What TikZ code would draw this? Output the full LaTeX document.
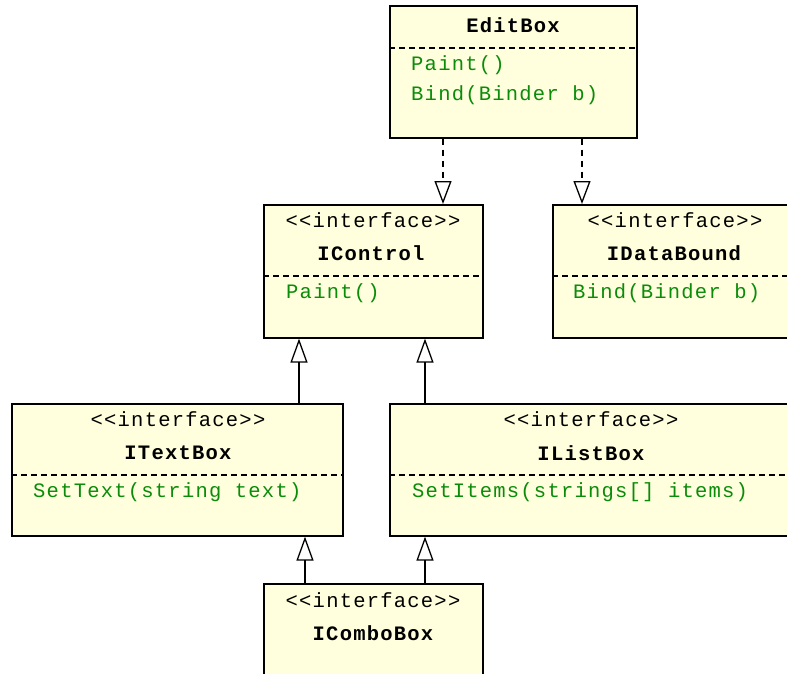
\documentclass[tikz,border=0pt]{standalone}
\usepackage{fontspec}
\newfontfamily\umlfont{Liberation Mono}[LetterSpace=6]
\usetikzlibrary{arrows.meta}
\definecolor{boxfill}{RGB}{255,255,221}
\definecolor{opgreen}{RGB}{10,140,10}
\begin{document}
\begin{tikzpicture}[x=1pt,y=-1pt,
  umlbox/.style={draw=black, line width=1.6pt, fill=boxfill, anchor=north west, inner sep=0pt},
  sep/.style={draw=black, line width=1.2pt, dash pattern=on 6pt off 4pt},
  stereo/.style={font=\fontsize{20.5}{24}\umlfont, inner sep=0pt, anchor=center},
  cname/.style={font=\fontsize{20.5}{24}\umlfont\bfseries, inner sep=0pt, anchor=center},
  oper/.style={font=\fontsize{20.5}{24}\umlfont, text=opgreen, anchor=west, inner sep=0pt},
  realize/.style={line width=1.4pt, dash pattern=on 6pt off 5pt,
    -{Triangle[open, width=17pt, length=23pt, line width=1.3pt, fill=white]}},
  inherit/.style={line width=1.4pt,
    -{Triangle[open, width=17pt, length=24pt, line width=1.3pt, fill=white]}}
]
\useasboundingbox (0,0) rectangle (787,674);
\clip (0,0) rectangle (787,674);
\fill[white] (0,0) rectangle (787,674);

% boxes
\node[umlbox, minimum width=247pt, minimum height=132pt] (editbox) at (389,5) {};
\node[umlbox, minimum width=219pt, minimum height=133pt] (icontrol) at (263,204) {};
\node[umlbox, minimum width=242pt, minimum height=133pt] (idatabound) at (552,204) {};
\node[umlbox, minimum width=331pt, minimum height=132pt] (itextbox) at (11,403) {};
\node[umlbox, minimum width=401pt, minimum height=132pt] (ilistbox) at (389,403) {};
\node[umlbox, minimum width=219pt, minimum height=120pt] (icombobox) at (263,583) {};

% EditBox
\node[cname] (editboxname) at (513,25) {EditBox};
\draw[sep] (editbox.west |- 0,48) -- (editbox.east |- 0,48);
\node[oper] (editboxop1) at (411,65) {Paint()};
\node[oper] (editboxop2) at (411,95) {Bind(Binder b)};

% IControl
\node[stereo] (icontrolst) at (373,220) {<<interface>>};
\node[cname] (icontrolname) at (371,253) {IControl};
\draw[sep] (icontrol.west |- 0,276) -- (icontrol.east |- 0,276);
\node[oper] (icontrolop) at (286,293) {Paint()};

% IDataBound
\node[stereo] (idataboundst) at (675,220) {<<interface>>};
\node[cname] (idataboundname) at (674,253) {IDataBound};
\draw[sep] (idatabound.west |- 0,276) -- (idatabound.east |- 0,276);
\node[oper] (idataboundop) at (573,293) {Bind(Binder b)};

% ITextBox
\node[stereo] (itextboxst) at (178,419) {<<interface>>};
\node[cname] (itextboxname) at (178,453) {ITextBox};
\draw[sep] (itextbox.west |- 0,475) -- (itextbox.east |- 0,475);
\node[oper] (itextboxop) at (33,492) {SetText(string text)};

% IListBox
\node[stereo] (ilistboxst) at (591,419) {<<interface>>};
\node[cname] (ilistboxname) at (591,453) {IListBox};
\draw[sep] (ilistbox.west |- 0,475) -- (ilistbox.east |- 0,475);
\node[oper] (ilistboxop) at (412,492) {SetItems(strings[] items)};

% IComboBox
\node[stereo] (icomboboxst) at (373,600) {<<interface>>};
\node[cname] (icomboboxname) at (373,633) {IComboBox};

% connectors
\draw[realize] (443,0 |- editbox.south) -- (443,0 |- icontrol.north);
\draw[realize] (582,0 |- editbox.south) -- (582,0 |- idatabound.north);
\draw[inherit] (299,0 |- itextbox.north) -- (299,0 |- icontrol.south);
\draw[inherit] (425,0 |- ilistbox.north) -- (425,0 |- icontrol.south);
\draw[inherit] (305,0 |- icombobox.north) -- (305,0 |- itextbox.south);
\draw[inherit] (425,0 |- icombobox.north) -- (425,0 |- ilistbox.south);
\end{tikzpicture}
\end{document}
